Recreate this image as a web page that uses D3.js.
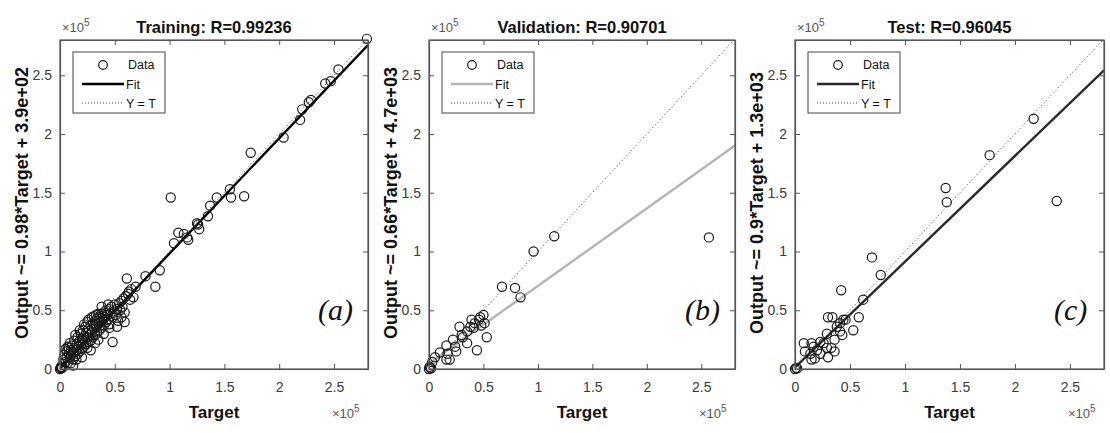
<!DOCTYPE html>
<html>
<head>
<meta charset="utf-8">
<script src="https://cdn.jsdelivr.net/npm/d3@7"></script>
<style>
  body { margin: 0; background: #fff; }
  svg { font-family: "Liberation Sans", Arial, sans-serif; }
</style>
</head>
<body>
<div id="chart"></div>
<script>
// values in units of x10^5, [target, output]
var trainData = [
  [0,0],[0.01,0.005],[0.005,0.01],[0.02,0.01],[0.01,0.02],[0.015,0.015],
  [0.03,0.08],[0.04,0.12],[0.05,0.06],[0.06,0.15],[0.06,0.10],[0.07,0.05],[0.07,0.19],
  [0.08,0.13],[0.08,0.18],[0.09,0.09],[0.10,0.16],[0.10,0.12],[0.10,0.05],[0.11,0.20],
  [0.12,0.08],[0.12,0.14],[0.13,0.18],[0.13,0.24],[0.14,0.11],[0.15,0.16],[0.15,0.21],
  [0.15,0.08],[0.16,0.27],[0.16,0.13],[0.17,0.19],[0.18,0.24],[0.18,0.15],[0.19,0.30],
  [0.19,0.21],[0.20,0.17],[0.20,0.26],[0.21,0.33],[0.21,0.22],[0.22,0.19],[0.22,0.28],
  [0.23,0.36],[0.23,0.25],[0.24,0.21],[0.24,0.31],[0.25,0.40],[0.25,0.27],[0.25,0.18],
  [0.26,0.23],[0.26,0.34],[0.26,0.42],[0.27,0.29],[0.28,0.24],[0.28,0.37],[0.29,0.31],
  [0.29,0.44],[0.30,0.27],[0.30,0.39],[0.31,0.34],[0.31,0.45],[0.32,0.29],[0.32,0.41],
  [0.33,0.36],[0.33,0.46],[0.34,0.31],[0.34,0.43],[0.35,0.38],[0.35,0.47],[0.35,0.25],
  [0.36,0.33],[0.36,0.44],[0.37,0.40],[0.38,0.35],[0.38,0.47],[0.39,0.42],[0.40,0.37],
  [0.40,0.48],[0.41,0.44],[0.42,0.40],[0.42,0.50],[0.43,0.46],[0.44,0.42],[0.45,0.51],
  [0.45,0.38],[0.45,0.35],[0.46,0.47],[0.47,0.53],[0.48,0.44],[0.48,0.23],[0.49,0.49],
  [0.50,0.55],[0.51,0.46],[0.52,0.51],[0.52,0.36],[0.53,0.41],[0.54,0.56],[0.55,0.50],
  [0.56,0.58],[0.56,0.44],[0.57,0.53],[0.58,0.60],[0.59,0.48],[0.59,0.40],[0.60,0.62],
  [0.62,0.64],[0.63,0.66],[0.64,0.59],[0.65,0.68],[0.67,0.61],[0.69,0.70],[0.61,0.77],
  [0.78,0.79],[0.87,0.70],[0.91,0.84],
  [0.05,0.17],[0.09,0.22],[0.14,0.29],[0.18,0.33],[0.22,0.38],[0.12,0.03],[0.20,0.10],
  [0.28,0.16],[0.32,0.22],[0.40,0.30],[0.44,0.55],[0.38,0.53],
  [1.01,1.46],[1.04,1.07],[1.08,1.16],[1.13,1.15],[1.16,1.12],[1.17,1.10],[1.25,1.24],
  [1.26,1.23],[1.27,1.19],[1.35,1.30],[1.37,1.39],[1.43,1.46],[1.55,1.53],[1.56,1.46],
  [1.68,1.47],[1.74,1.84],[2.04,1.97],[2.19,2.12],[2.21,2.21],[2.27,2.27],[2.29,2.29],
  [2.42,2.43],[2.47,2.45],[2.54,2.55],[2.80,2.81]
];
var valData = [
  [0,0],[0.01,0.01],[0.02,0.005],[0.005,0.02],[0.03,0.06],[0.055,0.10],[0.10,0.14],
  [0.16,0.08],[0.19,0.08],[0.16,0.20],[0.17,0.13],[0.22,0.25],[0.24,0.19],[0.25,0.15],
  [0.28,0.36],[0.30,0.29],[0.31,0.27],[0.35,0.32],[0.35,0.22],[0.38,0.36],[0.39,0.42],
  [0.41,0.35],[0.42,0.39],[0.44,0.16],[0.46,0.42],[0.47,0.44],[0.48,0.37],[0.50,0.46],
  [0.51,0.39],[0.53,0.27],[0.67,0.70],[0.79,0.69],[0.84,0.61],[0.96,1.00],[1.15,1.13],
  [2.57,1.12]
];
var testData = [
  [0,0],[0.01,0.01],[0.02,0.005],[0.08,0.22],[0.09,0.15],[0.14,0.13],[0.15,0.08],
  [0.15,0.22],[0.17,0.19],[0.18,0.09],[0.20,0.16],[0.23,0.23],[0.23,0.13],[0.26,0.22],
  [0.29,0.30],[0.29,0.18],[0.30,0.10],[0.30,0.44],[0.33,0.18],[0.34,0.44],[0.36,0.25],
  [0.36,0.15],[0.38,0.36],[0.41,0.32],[0.41,0.39],[0.42,0.67],[0.43,0.29],[0.44,0.42],
  [0.46,0.42],[0.53,0.33],[0.58,0.44],[0.62,0.59],[0.70,0.95],[0.78,0.80],
  [1.37,1.54],[1.38,1.42],[1.77,1.82],[2.17,2.13],[2.38,1.43]
];

var panels = [
  {title: "Training: R=0.99236", ylab: "Output ~= 0.98*Target + 3.9e+02", tag: "(a)",
   data: trainData, slope: 0.98, icpt: 0.0039, fitColor: "#000", left: 60, right: 368},
  {title: "Validation: R=0.90701", ylab: "Output ~= 0.66*Target + 4.7e+03", tag: "(b)",
   data: valData, slope: 0.66, icpt: 0.047, fitColor: "#b4b4b4", left: 429, right: 735},
  {title: "Test: R=0.96045", ylab: "Output ~= 0.9*Target + 1.3e+03", tag: "(c)",
   data: testData, slope: 0.9, icpt: 0.013, fitColor: "#2a2a2a", left: 795, right: 1104}
];
var tickVals = [0, 0.5, 1, 1.5, 2, 2.5];
var axMax = 2.81;

var width = 1110, height = 433, plotTop = 40, plotBottom = 369;

var svg = d3.select("#chart").append("svg")
  .attr("width", width)
  .attr("height", height);

panels.forEach(function(p, i) {
  var x = d3.scaleLinear().domain([0, axMax]).range([p.left, p.right]);
  var y = d3.scaleLinear().domain([0, 2.8]).range([plotBottom, plotTop]);
  var g = svg.append("g");
  var cx = (p.left + p.right) / 2;

  g.append("clipPath").attr("id", "clip" + i)
    .append("rect")
    .attr("x", p.left).attr("y", plotTop)
    .attr("width", p.right - p.left).attr("height", plotBottom - plotTop);

  var lines = g.append("g").attr("clip-path", "url(#clip" + i + ")");

  // Y = T
  lines.append("path")
    .datum([0, axMax])
    .attr("d", d3.line().x(d => x(d)).y(d => y(d)))
    .attr("fill", "none")
    .attr("stroke", "#444")
    .attr("stroke-width", 1)
    .attr("stroke-dasharray", "1,2.5");

  // fit line
  lines.append("path")
    .datum([0, axMax])
    .attr("d", d3.line().x(d => x(d)).y(d => y(p.slope * d + p.icpt)))
    .attr("fill", "none")
    .attr("stroke", p.fitColor)
    .attr("stroke-width", 2.4);

  // data circles (not clipped, like matlab markers)
  g.append("g").selectAll("circle")
    .data(p.data)
    .enter().append("circle")
    .attr("cx", d => x(d[0]))
    .attr("cy", d => y(d[1]))
    .attr("r", 4.6)
    .attr("fill", "none")
    .attr("stroke", "#1a1a1a")
    .attr("stroke-width", 1.2);

  // axes box with inward ticks
  var axColor = "#555";
  var xb = g.append("g").attr("transform", "translate(0," + plotBottom + ")")
    .call(d3.axisBottom(x).tickValues(tickVals).tickSizeInner(-5).tickSizeOuter(0).tickPadding(13)
      .tickFormat(d3.format("~g")));
  var xt = g.append("g").attr("transform", "translate(0," + plotTop + ")")
    .call(d3.axisTop(x).tickValues(tickVals).tickSizeInner(-5).tickSizeOuter(0).tickFormat(""));
  var yl = g.append("g").attr("transform", "translate(" + p.left + ",0)")
    .call(d3.axisLeft(y).tickValues(tickVals).tickSizeInner(-5).tickSizeOuter(0).tickPadding(8)
      .tickFormat(d3.format("~g")));
  var yr = g.append("g").attr("transform", "translate(" + p.right + ",0)")
    .call(d3.axisRight(y).tickValues(tickVals).tickSizeInner(-5).tickSizeOuter(0).tickFormat(""));
  [xb, xt, yl, yr].forEach(function(a) {
    a.select(".domain").attr("stroke", axColor).attr("stroke-width", 1.2);
    a.selectAll(".tick line").attr("stroke", axColor);
    a.selectAll(".tick text").attr("fill", "#3a3a3a").style("font-size", "14px")
      .style("font-family", "'Liberation Sans', Arial, sans-serif");
  });
  g.append("rect")
    .attr("x", p.left).attr("y", plotTop)
    .attr("width", p.right - p.left).attr("height", plotBottom - plotTop)
    .attr("fill", "none").attr("stroke", axColor).attr("stroke-width", 1.2);

  // title
  g.append("text")
    .attr("x", cx).attr("y", 33)
    .attr("text-anchor", "middle")
    .style("font-weight", "bold").style("font-size", "16.5px")
    .attr("fill", "#111")
    .text(p.title);

  // exponent labels
  var e1 = g.append("text").attr("x", p.left + 2).attr("y", 32)
    .attr("fill", "#555").style("font-size", "13px");
  e1.append("tspan").text("\u00d710");
  e1.append("tspan").attr("dy", -6).style("font-size", "10px").text("5");
  var e2 = g.append("text").attr("x", p.right - 36).attr("y", 418)
    .attr("fill", "#555").style("font-size", "13px");
  e2.append("tspan").text("\u00d710");
  e2.append("tspan").attr("dy", -6).style("font-size", "10px").text("5");

  // axis labels
  g.append("text")
    .attr("x", cx).attr("y", 418)
    .attr("text-anchor", "middle")
    .style("font-weight", "bold").style("font-size", "17px")
    .attr("fill", "#111")
    .text("Target");
  g.append("text")
    .attr("transform", "translate(" + (p.left - 32) + "," + 203 + ") rotate(-90)")
    .attr("text-anchor", "middle")
    .style("font-weight", "bold").style("font-size", "18px")
    .attr("fill", "#111")
    .text(p.ylab);

  // panel tag
  g.append("text")
    .attr("x", p.right - 50).attr("y", 320)
    .style("font-family", "'Liberation Serif', 'Times New Roman', serif")
    .style("font-style", "italic").style("font-size", "30px")
    .attr("fill", "#111")
    .text(p.tag);

  // legend
  var lx = p.left + 13, ly = plotTop + 12;
  var leg = g.append("g");
  leg.append("rect")
    .attr("x", lx).attr("y", ly).attr("width", 92).attr("height", 61)
    .attr("fill", "#fff").attr("stroke", "#444").attr("stroke-width", 1);
  leg.append("circle")
    .attr("cx", lx + 30).attr("cy", ly + 13).attr("r", 4.3)
    .attr("fill", "none").attr("stroke", "#1a1a1a").attr("stroke-width", 1.2);
  leg.append("line")
    .attr("x1", lx + 9).attr("x2", lx + 51).attr("y1", ly + 32).attr("y2", ly + 32)
    .attr("stroke", p.fitColor).attr("stroke-width", 2.4);
  leg.append("line")
    .attr("x1", lx + 9).attr("x2", lx + 49).attr("y1", ly + 51).attr("y2", ly + 51)
    .attr("stroke", "#444").attr("stroke-dasharray", "1,2");
  [["Data", 17], ["Fit", 37], ["Y = T", 56]].forEach(function(e) {
    leg.append("text")
      .attr("x", lx + (e[0] === "Data" ? 55 : 53)).attr("y", ly + e[1])
      .style("font-size", "12.5px").attr("fill", "#111")
      .text(e[0]);
  });
});
</script>
</body>
</html>
